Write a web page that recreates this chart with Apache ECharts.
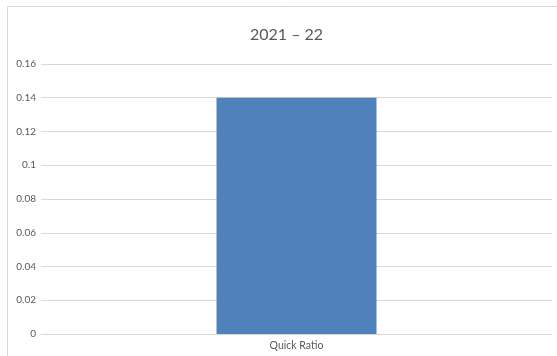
<!DOCTYPE html>
<html><head><meta charset="utf-8">
<script src="https://cdn.jsdelivr.net/npm/echarts@6/dist/echarts.min.js"></script>
<style>html,body{margin:0;padding:0;background:#fff}#c{width:557px;height:356px}</style>
</head><body><div id="c"></div>
<script>
const categories = ["Quick Ratio"];
const values = [0.14];
const titleText = "2021 – 22";
const chart = echarts.init(document.getElementById('c'), null, {renderer:'canvas'});
chart.setOption({
  animation:false,
  backgroundColor:'#fff',
  textStyle:{fontFamily:'Lato'},
  title:{text:titleText,left:245,top:22,textStyle:{fontFamily:'Lato',fontSize:16,fontWeight:'normal',color:'#595959'}},
  graphic:[
    {type:'line',shape:{x1:7.5,y1:6.5,x2:557,y2:6.5},style:{stroke:'#d9d9d9',lineWidth:1}},
    {type:'line',shape:{x1:7.5,y1:6.5,x2:7.5,y2:356},style:{stroke:'#d9d9d9',lineWidth:1}}
  ],
  grid:{left:41,right:5,top:64,bottom:22},
  xAxis:{type:'category',data:categories,
    axisLine:{show:true,lineStyle:{color:'#d9d9d9'}},axisTick:{show:false},
    axisLabel:{fontFamily:'Lato',fontSize:10.5,color:'#595959',margin:6}},
  yAxis:{type:'value',min:0,max:0.16,interval:0.02,
    axisLine:{show:false},axisTick:{show:false},
    axisLabel:{fontFamily:'Lato',fontSize:10,color:'#595959',margin:5,
      formatter:v=>String(Math.round(v*100)/100)},
    splitLine:{lineStyle:{color:'#d9d9d9'}}},
  series:[{type:'bar',data:values,barWidth:160,itemStyle:{color:'#4f81bd'}}]
});
</script></body></html>
